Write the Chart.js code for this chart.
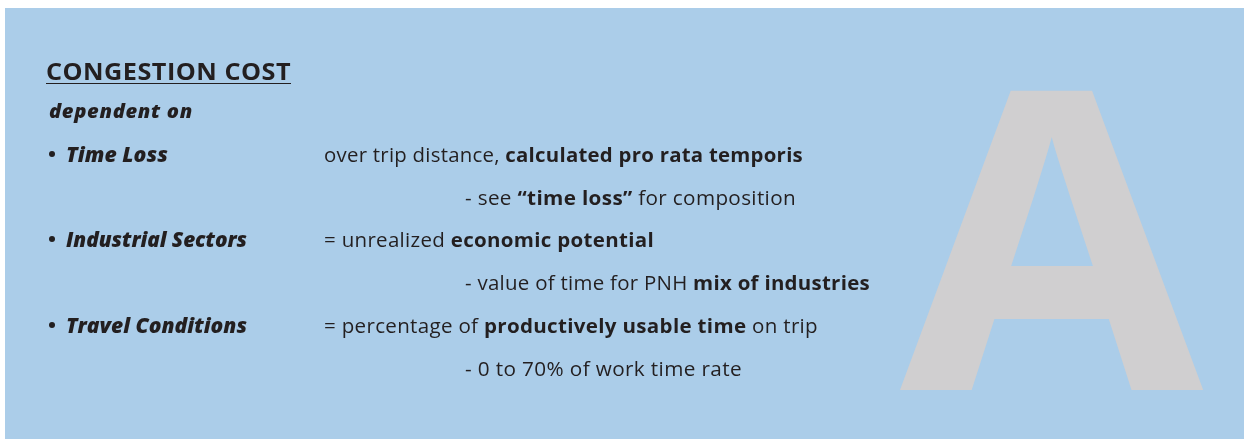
<!DOCTYPE html>
<html><head><meta charset="utf-8">
<script src="https://cdn.jsdelivr.net/npm/chart.js@4.4.1/dist/chart.umd.min.js"></script>
<style>
html,body{margin:0;padding:0;background:#fff;}
#wrap{position:relative;width:1249px;height:439px;overflow:hidden;}
#c{position:absolute;left:0;top:0;}
.ln{position:absolute;white-space:nowrap;font-family:"Open Sans",Lato,sans-serif;color:#231f20;line-height:1;transform-origin:0 0;}
.ln b{font-weight:700;}
.bl{display:inline-block;width:0;height:0;vertical-align:baseline;}
</style></head><body>
<div id="wrap"><canvas id="c" width="1249" height="439"></canvas><div id="txt"></div></div>
<script>
// ---- content ----
const title = "CONGESTION COST";
const subtitle = "dependent on";
const factors = ["Time Loss", "Industrial Sectors", "Travel Conditions"];
const descriptions = [
  [["over trip distance, ", false], ["calculated pro rata temporis", true]],
  [["= unrealized ", false], ["economic potential", true]],
  [["= percentage of ", false], ["productively usable time", true], [" on trip", false]]
];
const notes = [
  [["- see ", false], ["\u201Ctime loss\u201D", true], [" for composition", false]],
  [["- value of time for PNH ", false], ["mix of industries", true]],
  [["- 0 to 70% of work time rate", false]]
];
const watermark = "A";

// ---- layout / style ----
const W = 1249, H = 439;
const panel = {x: 5, y: 8, w: 1239, h: 431, color: "#abcde9"};
const wm = {x0: 900, y0: 90, x1: 1209, y1: 390, color: "#d0cfd0"};
const rowBase = 162, rowStep = 42.7;
const colFactor = 66, colBullet = 48, colDesc = 324, colNote = 465;
const factorWidths = [102, 181, 181];
const descWidths = [479, 330, 494];
const noteWidths = [331, 405, 277];

const txt = document.getElementById('txt');
function esc(s){return s.replace(/&/g,'&amp;').replace(/</g,'&lt;');}
function addLine(html, x, baseline, style, targetW){
  const d = document.createElement('div');
  d.className = 'ln';
  d.innerHTML = html + '<span class="bl"></span>';
  Object.assign(d.style, style);
  d.style.left = x + 'px';
  d.style.top = '0px';
  txt.appendChild(d);
  const off = d.querySelector('.bl').offsetTop;
  d.style.top = (baseline - off) + 'px';
  if (targetW) {
    const w = d.getBoundingClientRect().width;
    const k = targetW / w;
    const ls = (k - 1) * w * 0.35 / Math.max(1, d.textContent.length - 1);
    d.style.letterSpacing = ls + 'px';
    const w2 = d.getBoundingClientRect().width;
    d.style.transform = 'scaleX(' + (targetW / w2) + ')';
  }
  return d;
}
function segHtml(segs){return segs.map(s => s[1] ? '<b>' + esc(s[0]) + '</b>' : esc(s[0])).join('');}

function buildText(){
  addLine(esc(title), 46, 80, {fontSize:'24px', fontWeight:'700'}, 245);
  const ul = document.createElement('div');
  Object.assign(ul.style, {position:'absolute', left:'46px', top:'82.5px', width:'245px', height:'1.3px', background:'#231f20'});
  txt.appendChild(ul);
  addLine(esc(subtitle), 49, 118, {fontSize:'18.5px', fontWeight:'800', fontStyle:'italic'}, 144);
  factors.forEach((f, i) => {
    const yb = rowBase + rowStep * (2 * i);
    const yn = rowBase + rowStep * (2 * i + 1);
    const dot = document.createElement('div');
    Object.assign(dot.style, {position:'absolute', left: (colBullet+1) + 'px', top: (yb - 11) + 'px', width:'6px', height:'6px', borderRadius:'50%', background:'#231f20'});
    txt.appendChild(dot);
    addLine(esc(f), colFactor, yb, {fontSize:'21px', fontWeight:'800', fontStyle:'italic'}, factorWidths[i]);
    addLine(segHtml(descriptions[i]), colDesc, yb, {fontSize:'19.5px', fontWeight:'400'}, descWidths[i]);
    addLine(segHtml(notes[i]), colNote, yn, {fontSize:'19.5px', fontWeight:'400'}, noteWidths[i]);
  });
}

const slidePlugin = {
  id: 'slide',
  beforeDraw(chart){
    const ctx = chart.ctx;
    ctx.save();
    ctx.fillStyle = '#ffffff';
    ctx.fillRect(0, 0, W, H);
    ctx.fillStyle = panel.color;
    ctx.fillRect(panel.x, panel.y, panel.w, panel.h);
    ctx.font = '700 400px "Open Sans"';
    ctx.textBaseline = 'alphabetic';
    ctx.textAlign = 'left';
    const m = ctx.measureText(watermark);
    const gw = m.actualBoundingBoxLeft + m.actualBoundingBoxRight;
    const gh = m.actualBoundingBoxAscent + m.actualBoundingBoxDescent;
    const sx = (wm.x1 - wm.x0) / gw, sy = (wm.y1 - wm.y0) / gh;
    ctx.translate(wm.x0, wm.y0);
    ctx.scale(sx, sy);
    ctx.fillStyle = wm.color;
    ctx.fillText(watermark, m.actualBoundingBoxLeft, m.actualBoundingBoxAscent);
    ctx.restore();
  }
};

function start(){
  new Chart(document.getElementById('c'), {
    type: 'scatter',
    data: {datasets: []},
    options: {
      responsive: false, animation: false, events: [],
      layout: {padding: 0},
      plugins: {legend: {display: false}, tooltip: {enabled: false}},
      scales: {x: {display: false}, y: {display: false}}
    },
    plugins: [slidePlugin]
  });
  buildText();
}
Promise.all([
  document.fonts.load('700 24px "Open Sans"'), document.fonts.load('400 20px "Open Sans"'),
  document.fonts.load('italic 800 20px "Open Sans"'), document.fonts.load('700 40px "Open Sans"')
]).then(start, start);
</script>
</body></html>
